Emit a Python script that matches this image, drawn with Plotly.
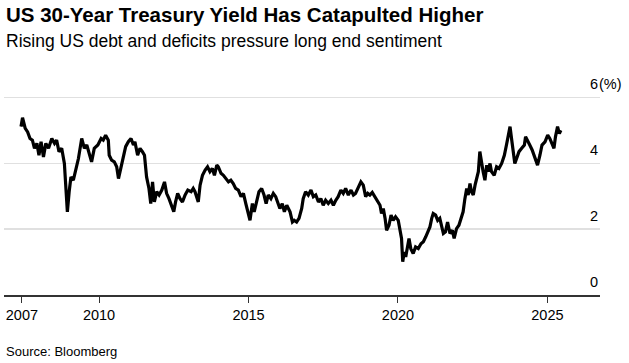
import plotly.graph_objects as go

# Decimal-year dates and 30-year US Treasury yield (%)
years = [
    2007.39, 2007.44, 2007.53, 2007.61, 2007.69, 2007.77, 2007.84, 2007.92, 2007.99,
    2008.06, 2008.14, 2008.22, 2008.31, 2008.42, 2008.51, 2008.58, 2008.66, 2008.75,
    2008.84, 2008.89, 2008.94, 2009.00, 2009.06, 2009.14, 2009.22, 2009.31, 2009.42,
    2009.51, 2009.59, 2009.67, 2009.75, 2009.84, 2009.96, 2010.07, 2010.14, 2010.22,
    2010.31, 2010.34, 2010.42, 2010.51, 2010.59, 2010.65, 2010.74, 2010.81, 2010.89,
    2010.98, 2011.07, 2011.15, 2011.20, 2011.29, 2011.37, 2011.45, 2011.52, 2011.59,
    2011.67, 2011.73, 2011.79, 2011.85, 2011.93, 2012.01, 2012.10, 2012.19, 2012.26,
    2012.34, 2012.43, 2012.50, 2012.56, 2012.63, 2012.71, 2012.79, 2012.88, 2012.97,
    2013.08, 2013.15, 2013.21, 2013.27, 2013.32, 2013.38, 2013.46, 2013.55, 2013.63,
    2013.71, 2013.79, 2013.86, 2013.94, 2013.99, 2014.08, 2014.16, 2014.24, 2014.33,
    2014.41, 2014.49, 2014.57, 2014.66, 2014.75, 2014.83, 2014.91, 2014.99, 2015.05,
    2015.13, 2015.19, 2015.27, 2015.35, 2015.44, 2015.52, 2015.59, 2015.66, 2015.75,
    2015.83, 2015.91, 2015.98, 2016.05, 2016.13, 2016.20, 2016.28, 2016.31, 2016.35,
    2016.39, 2016.47, 2016.53, 2016.61, 2016.69, 2016.78, 2016.83, 2016.91, 2017.00,
    2017.09, 2017.17, 2017.25, 2017.34, 2017.42, 2017.50, 2017.58, 2017.67, 2017.76,
    2017.84, 2017.92, 2018.00, 2018.09, 2018.17, 2018.25, 2018.34, 2018.43, 2018.51,
    2018.58, 2018.67, 2018.76, 2018.84, 2018.92, 2018.99, 2019.06, 2019.14, 2019.23,
    2019.32, 2019.40, 2019.45, 2019.51, 2019.57, 2019.62, 2019.70, 2019.77, 2019.84,
    2019.92, 2020.01, 2020.07, 2020.12, 2020.16, 2020.21, 2020.26, 2020.32, 2020.37,
    2020.43, 2020.51, 2020.59, 2020.68, 2020.77, 2020.85, 2020.93, 2020.99, 2021.07,
    2021.13, 2021.18, 2021.26, 2021.33, 2021.40, 2021.46, 2021.52, 2021.59, 2021.66,
    2021.74, 2021.82, 2021.88, 2021.96, 2022.04, 2022.11, 2022.18, 2022.24, 2022.30,
    2022.35, 2022.41, 2022.46, 2022.52, 2022.58, 2022.63, 2022.69, 2022.74, 2022.80,
    2022.85, 2022.91, 2022.97, 2023.02, 2023.08, 2023.13, 2023.22, 2023.30, 2023.38,
    2023.47, 2023.56, 2023.63, 2023.69, 2023.75, 2023.80, 2023.86, 2023.91, 2023.97,
    2024.05, 2024.14, 2024.23, 2024.27, 2024.34, 2024.41, 2024.49, 2024.58, 2024.67,
    2024.75, 2024.82, 2024.92, 2025.01, 2025.08, 2025.16, 2025.22, 2025.27, 2025.34,
    2025.40, 2025.45,
]
yield_pct = [
    5.12, 5.39, 5.07, 4.96, 4.76, 4.71, 4.46, 4.61, 4.25,
    4.66, 4.20, 4.61, 4.46, 4.76, 4.61, 4.71, 4.36, 4.46,
    4.00, 3.24, 2.53, 3.14, 3.59, 3.49, 3.80, 4.15, 4.76,
    4.46, 4.56, 4.30, 4.05, 4.46, 4.56, 4.76, 4.71, 4.86,
    4.71, 4.25, 4.10, 4.05, 3.90, 3.54, 3.95, 4.25, 4.51,
    4.66, 4.76, 4.56, 4.66, 4.25, 4.46, 4.36, 4.25, 3.59,
    3.24, 2.78, 3.44, 2.83, 3.14, 3.04, 3.19, 3.44, 3.09,
    2.93, 2.73, 2.53, 2.83, 3.09, 2.93, 2.83, 3.04, 3.19,
    3.14, 3.24, 3.14, 2.99, 2.83, 3.34, 3.64, 3.80, 3.90,
    3.75, 3.85, 3.64, 3.95, 3.90, 3.70, 3.64, 3.54, 3.44,
    3.49, 3.39, 3.24, 3.19, 2.99, 3.09, 2.78, 2.53, 2.27,
    2.78, 2.53, 2.83, 3.14, 3.24, 3.04, 2.78, 3.04, 2.93,
    3.09, 2.99, 2.83, 2.63, 2.78, 2.53, 2.73, 2.68, 2.58,
    2.53, 2.22, 2.27, 2.22, 2.33, 2.63, 2.93, 3.14, 3.04,
    3.19, 2.99, 3.04, 2.83, 2.93, 2.73, 2.88, 2.78, 2.88,
    2.73, 2.88, 2.99, 3.19, 3.09, 3.24, 3.04, 3.19, 3.04,
    3.09, 3.29, 3.44, 3.34, 2.99, 3.09, 3.04, 3.12, 2.98,
    2.88, 2.73, 2.48, 2.63, 2.33, 1.97, 2.12, 2.43, 2.27,
    2.38, 2.27, 2.02, 1.72, 1.01, 1.31, 1.16, 1.51, 1.72,
    1.41, 1.26, 1.46, 1.41, 1.56, 1.62, 1.77, 1.92, 2.07,
    2.33, 2.48, 2.43, 2.27, 2.33, 2.07, 1.87, 1.92, 2.22,
    1.87, 1.97, 1.72, 2.02, 2.12, 2.33, 2.53, 2.93, 3.24,
    3.04, 3.39, 3.14, 3.04, 3.34, 3.54, 3.75, 4.36, 3.95,
    3.75, 3.49, 3.95, 3.75, 4.00, 3.75, 3.64, 3.90, 3.85,
    4.00, 4.25, 4.56, 4.86, 5.12, 4.76, 4.36, 4.00, 4.15,
    4.36, 4.46, 4.56, 4.81, 4.66, 4.56, 4.41, 4.15, 3.95,
    4.25, 4.56, 4.66, 4.86, 4.76, 4.56, 4.46, 4.81, 5.12,
    4.91, 5.01,
]

x_tick_vals = [2007.42, 2010, 2015, 2020, 2025]
x_tick_text = ["2007", "2010", "2015", "2020", "2025"]
y_tick_vals = [0, 2, 4, 6]
y_unit = "(%)"

title = "US 30-Year Treasury Yield Has Catapulted Higher"
subtitle = "Rising US debt and deficits pressure long end sentiment"
source = "Source: Bloomberg"

FONT = "Arial, Liberation Sans, sans-serif"

fig = go.Figure()
fig.add_trace(go.Scatter(
    x=years, y=yield_pct, mode="lines",
    line=dict(color="#000000", width=3.2, shape="linear"),
    hoverinfo="skip", showlegend=False,
))

annotations = []
for v in y_tick_vals:
    annotations.append(dict(
        x=1, xref="paper", y=v, yref="y", text=str(v), showarrow=False,
        xanchor="right", yanchor="middle", yshift=13.5,
        font=dict(family=FONT, size=14.5, color="#000000"),
    ))
annotations.append(dict(
    x=1, xref="paper", y=max(y_tick_vals), yref="y", text=y_unit, showarrow=False,
    xanchor="left", yanchor="middle", yshift=13.5, xshift=-3,
    font=dict(family=FONT, size=14.5, color="#000000"),
))
annotations.append(dict(
    x=0, xref="paper", y=1.366, yref="paper", text="<b>" + title + "</b>",
    showarrow=False, xanchor="left", yanchor="middle",
    font=dict(family=FONT, size=20.5, color="#000000"),
))
annotations.append(dict(
    x=0, xref="paper", y=1.239, yref="paper", text=subtitle,
    showarrow=False, xanchor="left", yanchor="middle",
    font=dict(family=FONT, size=17.5, color="#000000"),
))
annotations.append(dict(
    x=0, xref="paper", y=-0.278, yref="paper", text=source,
    showarrow=False, xanchor="left", yanchor="middle",
    font=dict(family=FONT, size=13, color="#000000"),
))

fig.update_layout(
    width=629, height=363,
    margin=dict(l=4, r=29, t=90, b=68),
    paper_bgcolor="#ffffff", plot_bgcolor="#ffffff",
    annotations=annotations,
    xaxis=dict(
        range=[2006.82, 2026.76],
        tickmode="array", tickvals=x_tick_vals, ticktext=x_tick_text,
        showgrid=False, zeroline=False,
        showline=True, linecolor="#333333", linewidth=1.5,
        ticks="outside", ticklen=6, tickwidth=1, tickcolor="#333333",
        tickfont=dict(family=FONT, size=14.5, color="#000000"),
        fixedrange=True,
    ),
    yaxis=dict(
        range=[0, 6.234],
        tickmode="array", tickvals=y_tick_vals,
        showticklabels=False, showgrid=True, gridcolor="#e0e0e0", gridwidth=1.5,
        zeroline=False, showline=False, ticks="",
        fixedrange=True,
    ),
)

fig.write_html(
    "out.html",
    config={"displayModeBar": False, "staticPlot": True},
    post_script="document.body.style.margin='0';",
)
